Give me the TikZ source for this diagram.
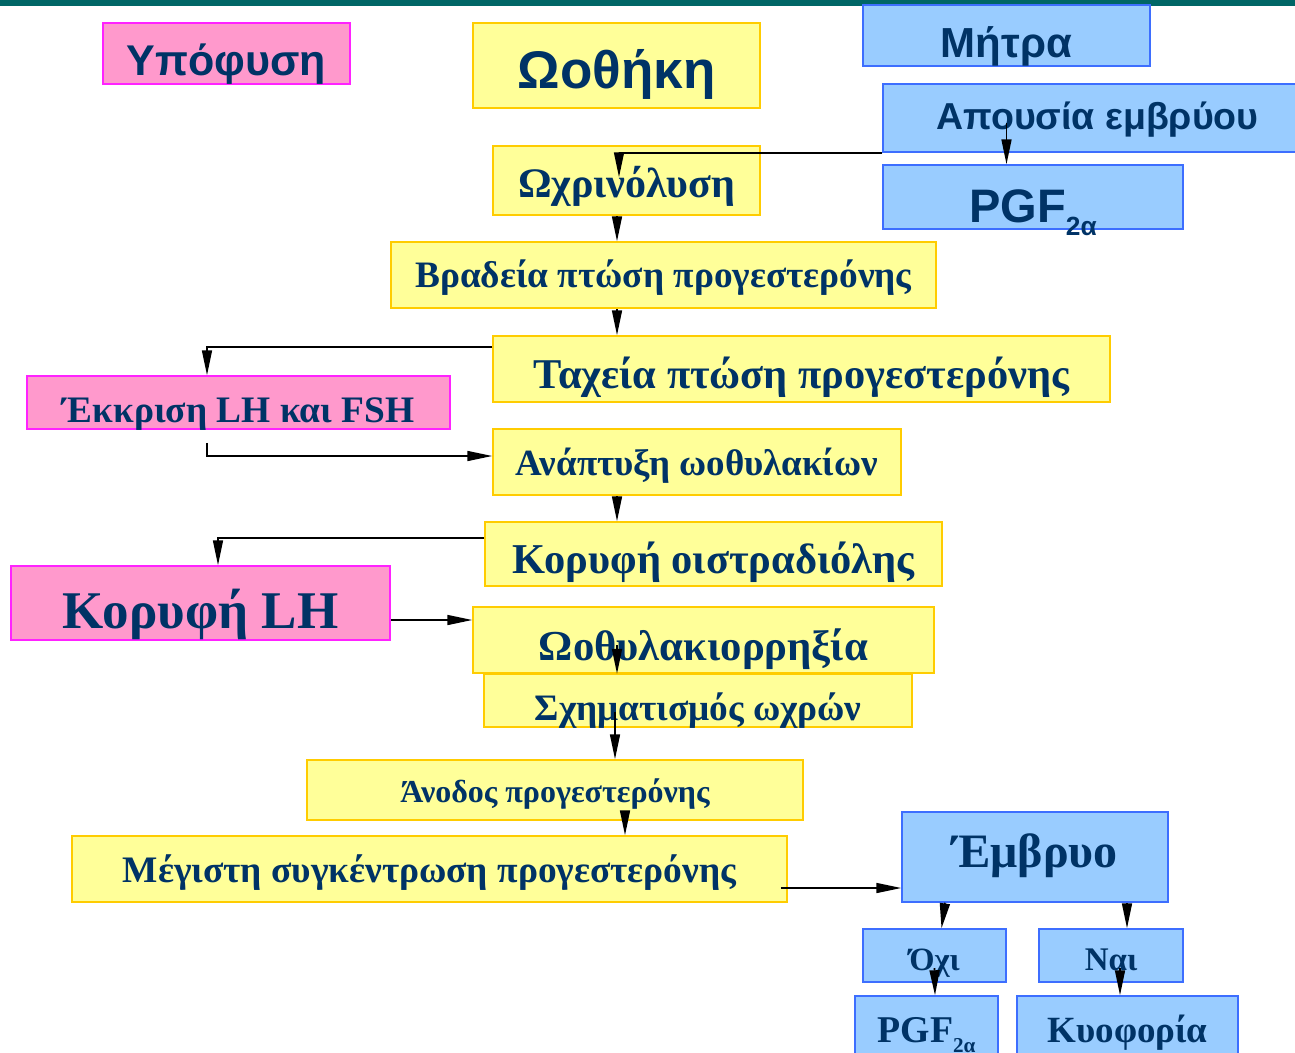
\documentclass[tikz,border=0pt]{standalone}
\usepackage{fontspec}
\setmainfont{Liberation Serif}
\setsansfont{Liberation Sans}
\usetikzlibrary{arrows.meta}
\definecolor{navy}{HTML}{003366}
\definecolor{barteal}{HTML}{006666}
\definecolor{pinkfill}{HTML}{FF99CC}
\definecolor{pinkline}{HTML}{FF22FF}
\definecolor{yellowfill}{HTML}{FFFF99}
\definecolor{yellowline}{HTML}{FFCC00}
\definecolor{bluefill}{HTML}{99CCFF}
\definecolor{blueline}{HTML}{3D6EFF}
\tikzset{
box/.style={
	  draw, line width=1.5pt, inner sep=0pt, text=navy, font=\bfseries},
pinkbox/.style={box, fill=pinkfill, draw=pinkline},
yellowbox/.style={box, fill=yellowfill, draw=yellowline},
bluebox/.style={box, fill=bluefill, draw=blueline},
wh/.style 2 args={minimum width=#1pt, minimum height=#2pt},
bl/.style={text depth=0pt, text height=#1pt},
arr/.style={-{Triangle[length=25pt,width=10pt]}, line width=1.6pt}
}
\newcommand{\fs}[1]{\fontsize{#1}{#1}\selectfont}
\newcommand{\pgfsub}{PGF\raisebox{-0.28em}{\scalebox{0.56}{2α}}}

\begin{document}
\begin{tikzpicture}[x=1pt, y=-1pt]
	\clip (0,0) rectangle (1295,1052);
	\fill[white] (0,0) rectangle (1295,1052);
	\fill[barteal] (0,0) rectangle (1295,6);
	\coordinate (spine) at (617,0);
	\coordinate (lutx) at (619,0);
	\coordinate (clx) at (615,0);
	\coordinate (risex) at (625,0);
	\node[pinkbox, wh={247}{61}, bl=43, font=\sffamily\bfseries\fs{43}] (hyp) at (226.5,53.5) {Υπόφυση};
	\node[yellowbox, wh={287}{85}, bl=45, font=\sffamily\bfseries\fs{53}] (ovary) at (616.5,65.5) {Ωοθήκη};
	\node[bluebox, wh={287}{61}, bl=43, font=\sffamily\bfseries\fs{42}] (uterus) at (1006.5,35.5) {Μήτρα};
	\node[bluebox, wh={422}{68}, bl=22, font=\sffamily\bfseries\fs{37.5}] (noemb) at (1094,118) {\hspace*{7pt}Απουσία εμβρύου};
	\node[bluebox, wh={300}{64}, bl=50, font=\sffamily\bfseries\fs{47}] (pgfup) at (1033,197) {\pgfsub};
	\node[yellowbox, wh={267}{69}, bl=33, font=\bfseries\fs{42}] (luteo) at (626.5,180.5) {Ωχρινόλυση};
	\node[yellowbox, wh={545}{66}, bl=24, font=\bfseries\fs{37.3}] (slow) at (663.5,275) {Βραδεία πτώση προγεστερόνης};
	\node[yellowbox, wh={617}{66}, bl=38, font=\bfseries\fs{42.4}] (fast) at (801.5,369) {Ταχεία πτώση προγεστερόνης};
	\node[pinkbox, wh={423}{53}, bl=39, font=\bfseries\fs{37.4}] (lhfsh) at (238.5,402.5) {Έκκριση LH και FSH};
	\node[yellowbox, wh={408}{66}, bl=26, font=\bfseries\fs{37}] (follic) at (697,462) {Ανάπτυξη ωοθυλακίων};
	\node[yellowbox, wh={457}{64}, bl=38, font=\bfseries\fs{42.5}] (estr) at (713.5,554) {Κορυφή οιστραδιόλης};
	\node[pinkbox, wh={379}{74}, bl=50, font=\bfseries\fs{53}] (lhpeak) at (200.5,603) {Κορυφή LH};
	\node[yellowbox, wh={461}{66}, bl=40, font=\bfseries\fs{42.7}] (ovul) at (703.5,640) {Ωοθυλακιορρηξία};
	\node[yellowbox, wh={428}{53}, bl=39, font=\bfseries\fs{37.3}] (cl) at (698,700.5) {Σχηματισμός ωχρών};
	\node[yellowbox, wh={496}{60}, bl=24, font=\bfseries\fs{32}] (rise) at (555,790) {Άνοδος προγεστερόνης};
	\node[yellowbox, wh={715}{66}, bl=26, font=\bfseries\fs{37.4}] (maxp) at (429.5,869) {Μέγιστη συγκέντρωση προγεστερόνης};
	\node[bluebox, wh={266}{90}, bl=20, font=\bfseries\fs{48}] (emb) at (1035,857) {Έμβρυο};
	\node[bluebox, wh={143}{53}, bl=29, font=\bfseries\fs{32.5}] (no) at (934.5,955.5) {Όχι};
	\node[bluebox, wh={144}{53}, bl=29, font=\bfseries\fs{33}] (yes) at (1111,955.5) {Ναι};
	\node[bluebox, wh={143}{64}, bl=28, font=\bfseries\fs{37.8}] (pgfdn) at (926.5,1028) {\pgfsub};
	\node[bluebox, wh={221}{64}, bl=28, font=\bfseries\fs{37}] (preg) at (1127.5,1028) {Κυοφορία};
	\draw[arr] (noemb.south west) -| ([yshift=-32pt]luteo.north -| lutx);
	\draw[arr] ([yshift=-5pt]noemb.center -| uterus.south) -- (pgfup.north -| uterus.south);
	\draw[arr] (luteo.south -| spine) -- (slow.north -| spine);
	\draw[arr] (slow.south -| spine) -- (fast.north -| spine);
	\draw[arr] ([yshift=-12pt]fast.north west) -| ([xshift=-31.5pt]lhfsh.north);
	\draw[arr] ([xshift=-31.5pt,yshift=-13pt]lhfsh.south) |- ([yshift=6pt]follic.west);
	\draw[arr] (follic.south -| spine) -- (estr.north -| spine);
	\draw[arr] ([yshift=-17pt]estr.north west) -| ([xshift=17.5pt]lhpeak.north);
	\draw[arr] ([yshift=-17pt]lhpeak.east) -- ([yshift=-17pt]lhpeak.east -| ovul.west);
	\draw[arr] ([yshift=-5pt]ovul.center -| spine) -- (ovul.south -| spine);
	\draw[arr] ([yshift=-11pt]cl.center -| clx) -- (rise.north -| clx);
	\draw[arr] ([yshift=10pt]rise.south -| risex) -- (maxp.north -| risex);
	\draw[arr] ([xshift=-7pt,yshift=-19pt]maxp.east) -- ([yshift=-19pt]maxp.east -| emb.west);
	\draw[arr] ([xshift=-90pt]emb.south) -- ([xshift=7pt]no.north);
	\draw[arr] ([xshift=92pt]emb.south) -- ([xshift=16pt]yes.north);
	\draw[arr] ([yshift=-12.5pt]no.center) -- ([xshift=8.5pt]pgfdn.north);
	\draw[arr] ([xshift=9pt,yshift=-12.5pt]yes.center) -- ([xshift=-7.5pt]preg.north);
\end{tikzpicture}
\end{document}
